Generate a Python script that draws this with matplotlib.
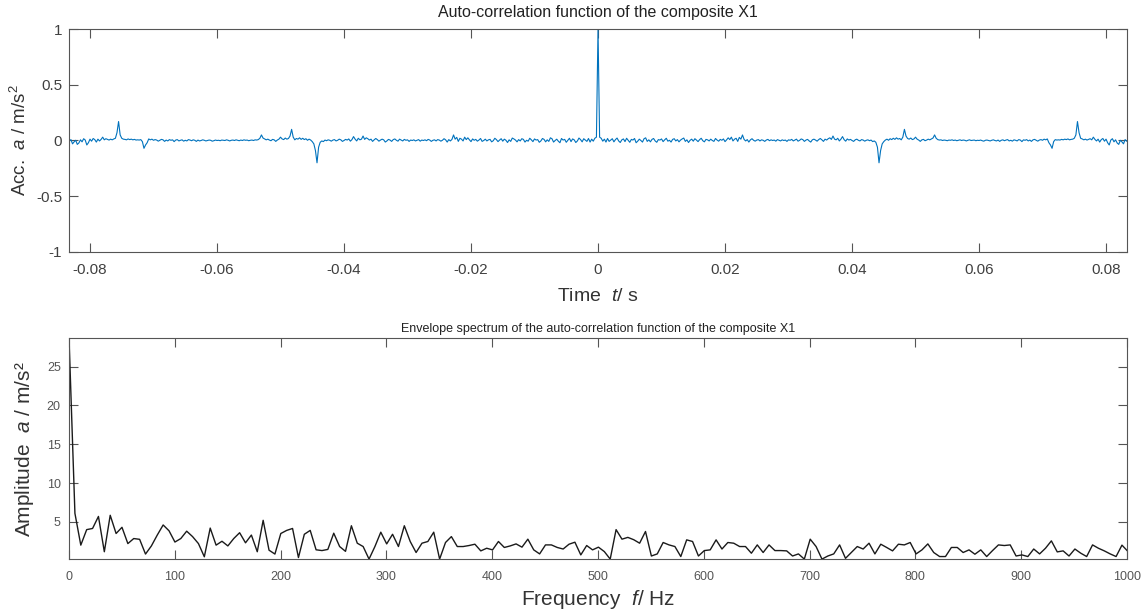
import numpy as np
import matplotlib
matplotlib.use('Agg')
import matplotlib.pyplot as plt
from matplotlib.ticker import FuncFormatter

plt.rcParams['font.family'] = ['Liberation Sans', 'DejaVu Sans']
plt.rcParams['mathtext.fontset'] = 'custom'
plt.rcParams['mathtext.rm'] = 'Liberation Sans'
plt.rcParams['mathtext.it'] = 'Liberation Sans:italic'

# auto-correlation, positive lags (the function is even, negative side is the mirror)
lag_step = 0.00025
acf_pos = [
    1.0, 0.03, 0.02, -0.006, 0.012, -0.014, 0.018, -0.008, 0.004, 0.016,
    -0.012, 0.008, 0.022, -0.004, -0.018, 0.006, 0.014, -0.01, 0.02, 0.002,
    -0.016, 0.01, 0.004, 0.018, -0.02, -0.006, 0.012, 0.0, -0.014, 0.016,
    0.024, -0.008, 0.006, -0.012, 0.01, 0.018, -0.004, -0.016, 0.008, 0.004,
    0.014, -0.01, 0.006, 0.02, -0.006, 0.002, -0.014, 0.01, 0.016, -0.004,
    0.008, -0.012, 0.004, 0.014, 0.022, -0.008, 0.006, -0.018, 0.002, 0.012,
    -0.006, 0.016, 0.004, -0.01, 0.008, 0.02, -0.002, -0.012, 0.01, 0.006,
    -0.004, 0.012, 0.0, -0.008, 0.018, 0.004, -0.006, 0.01, 0.002, 0.014,
    -0.01, 0.006, 0.024, 0.008, 0.03, -0.004, 0.012, 0.02, -0.008, 0.028,
    0.012, 0.05, 0.01, -0.004, 0.008, -0.014, 0.006, 0.016, 0.002, -0.006,
    0.004, 0.008, -0.004, 0.006, 0.002, -0.008, 0.004, 0.01, -0.002, 0.006,
    0.0, 0.004, -0.006, 0.008, 0.002, -0.004, 0.006, 0.0, 0.004, -0.008,
    0.006, 0.002, 0.01, -0.004, 0.004, 0.012, -0.006, 0.002, 0.014, 0.008,
    -0.008, 0.004, 0.01, -0.004, -0.014, 0.006, 0.012, 0.004, -0.006, 0.008,
    0.018, 0.006, -0.008, 0.012, 0.004, 0.016, 0.024, 0.01, 0.04, 0.012,
    0.006, 0.02, -0.004, 0.012, 0.035, 0.008, -0.006, 0.014, 0.004, 0.01,
    0.0, -0.008, 0.006, 0.012, 0.002, -0.004, 0.008, 0.004, -0.006, 0.002,
    0.006, -0.002, 0.004, -0.01, -0.004, -0.016, -0.06, -0.2, -0.09, -0.03,
    -0.01, 0.004, 0.012, 0.002, 0.016, 0.008, 0.02, 0.01, 0.024, 0.012,
    0.018, 0.006, 0.03, 0.1, 0.04, 0.018, 0.012, 0.022, 0.008, 0.014,
    0.03, 0.012, 0.004, -0.008, 0.006, 0.01, -0.002, 0.004, 0.012, 0.006,
    0.014, 0.022, 0.05, 0.02, 0.008, 0.004, 0.006, 0.0, 0.004, 0.002,
    -0.002, 0.004, 0.002, 0.006, 0.0, 0.004, -0.002, 0.002, 0.006, 0.0,
    0.004, 0.002, -0.004, 0.002, 0.006, 0.0, 0.002, 0.004, -0.002, 0.002,
    0.0, 0.004, -0.002, -0.006, 0.002, 0.004, 0.0, -0.004, 0.002, 0.006,
    0.0, -0.004, 0.004, -0.008, 0.002, 0.006, -0.002, 0.004, 0.008, -0.004,
    0.002, -0.006, 0.006, 0.002, -0.004, 0.008, 0.004, -0.01, 0.006, 0.002,
    0.008, -0.004, 0.004, -0.008, 0.006, 0.01, 0.002, -0.006, 0.004, 0.008,
    0.002, 0.012, 0.006, 0.014, -0.02, -0.04, -0.07, -0.01, 0.008, 0.004,
    0.006, 0.004, 0.01, 0.006, 0.012, 0.008, 0.014, 0.006, 0.01, 0.012,
    0.02, 0.05, 0.17, 0.07, 0.02, 0.014, 0.006, 0.012, 0.004, 0.01,
    0.016, 0.006, 0.03, 0.01, -0.004, 0.012, -0.014, 0.008, 0.018, -0.006,
    0.012, -0.02, -0.04, 0.004, 0.016, -0.012, 0.006, -0.022, -0.035, 0.002,
    -0.012, -0.03, 0.008, -0.006,
]

# envelope spectrum
freq_step = 5.56
env_amp = [
    28.7, 6.1, 2.0, 4.0, 4.15, 5.7, 1.15, 5.85, 3.5, 4.3,
    2.2, 2.85, 2.75, 0.85, 1.9, 3.3, 4.6, 3.85, 2.4, 2.85,
    3.8, 3.1, 2.2, 0.5, 4.2, 2.0, 2.5, 1.9, 2.85, 3.6,
    2.3, 3.3, 1.15, 5.2, 1.35, 0.85, 3.5, 3.9, 4.15, 0.4,
    3.4, 3.9, 1.4, 1.3, 1.45, 3.54, 1.82, 1.2, 4.5, 2.25,
    1.82, 0.2, 1.82, 3.67, 2.16, 3.4, 1.82, 4.5, 2.47, 1.05,
    2.25, 2.47, 3.67, 0.2, 2.34, 3.1, 1.82, 1.82, 1.95, 2.12,
    1.26, 1.6, 1.39, 2.47, 1.7, 1.9, 2.16, 1.74, 2.77, 1.39,
    0.87, 2.03, 2.03, 1.7, 1.5, 2.12, 2.38, 0.74, 1.95, 1.39,
    1.74, 1.17, 0.2, 4.0, 2.77, 3.0, 2.7, 2.25, 3.76, 0.6,
    0.87, 2.34, 2.03, 1.82, 0.53, 2.68, 2.47, 0.6, 1.3, 1.39,
    2.68, 1.5, 2.34, 2.25, 1.82, 1.82, 0.96, 2.03, 1.05, 2.03,
    1.3, 1.3, 1.26, 0.6, 0.87, 0.2, 2.77, 1.82, 0.2, 0.6,
    0.87, 2.03, 0.3, 1.05, 1.82, 1.5, 2.25, 0.87, 2.12, 1.7,
    1.26, 2.12, 2.03, 2.34, 0.87, 1.39, 2.16, 1.05, 0.53, 0.53,
    1.7, 1.7, 1.05, 1.39, 0.83, 1.39, 0.53, 1.3, 2.03, 1.95,
    2.03, 0.6, 0.74, 0.53, 1.5, 0.87, 1.6, 2.55, 1.13, 1.26,
    0.6, 1.5, 0.96, 0.53, 2.03, 1.6, 1.26, 0.87, 0.53, 2.0,
    1.2,
]

acf_pos = np.array(acf_pos)
acf = np.concatenate([acf_pos[:0:-1], acf_pos])
n = len(acf_pos)
lags = np.arange(-(n - 1), n) * lag_step
env_amp = np.array(env_amp)
freq = np.arange(len(env_amp)) * freq_step

tick_col = '#404040'
spine_col = '#555555'

fig = plt.figure(figsize=(11.43, 6.11), dpi=100)
ax1 = fig.add_axes([0.0604, 0.5876, 0.9256, 0.3649])
ax2 = fig.add_axes([0.0604, 0.0843, 0.9256, 0.3625])

# top: auto-correlation
ax1.plot(lags, acf, color='#0072BD', lw=0.8)
ax1.set_xlim(-0.0833, 0.0833)
ax1.set_ylim(-1, 1)
ax1.set_xticks(np.arange(-0.08, 0.081, 0.02))
ax1.set_yticks([-1, -0.5, 0, 0.5, 1])
ax1.xaxis.set_major_formatter(FuncFormatter(lambda v, p: '0' if abs(v) < 1e-9 else ('%g' % round(v, 2))))
ax1.yaxis.set_major_formatter(FuncFormatter(lambda v, p: '%g' % v))
ax1.tick_params(direction='in', top=True, right=True, length=6.5, width=0.8,
                colors=spine_col, labelcolor=tick_col, labelsize=11)
ax1.tick_params(axis='x', pad=8)
ax1.tick_params(axis='y', pad=5)
ax1.set_title('Auto-correlation function of the composite X1', fontsize=11.5, color='#222222', pad=9)
ax1.set_xlabel(r'Time  $\mathit{t}$/ s', fontsize=14, color='#333333', labelpad=8)
ax1.set_ylabel(r'Acc.  $\mathit{a}$ / m/s$^2$', fontsize=13.5, color='#333333', labelpad=4)

# bottom: envelope spectrum
ax2.plot(freq, env_amp, color='#1a1a1a', lw=1.0)
ax2.set_xlim(0, 1000)
ax2.set_ylim(0.15, env_amp.max())
ax2.set_xticks(np.arange(0, 1001, 100))
ax2.set_yticks([5, 10, 15, 20, 25])
ax2.tick_params(direction='in', top=True, right=True, length=6.5, width=0.8,
                colors=spine_col, labelcolor='#555555', labelsize=9)
ax2.tick_params(axis='x', pad=8)
ax2.tick_params(axis='y', pad=6)
ax2.set_title('Envelope spectrum of the auto-correlation function of the composite X1',
              fontsize=9, color='#222222', pad=4)
ax2.set_xlabel(r'Frequency  $\mathit{f}$/ Hz', fontsize=15, color='#333333', labelpad=4)
ax2.set_ylabel(r'Amplitude  $\mathit{a}$ / m/s²', fontsize=15, color='#333333', labelpad=8)

for ax in (ax1, ax2):
    for s in ax.spines.values():
        s.set_color(spine_col)
        s.set_linewidth(0.8)

fig.savefig('out.png', dpi=100)
